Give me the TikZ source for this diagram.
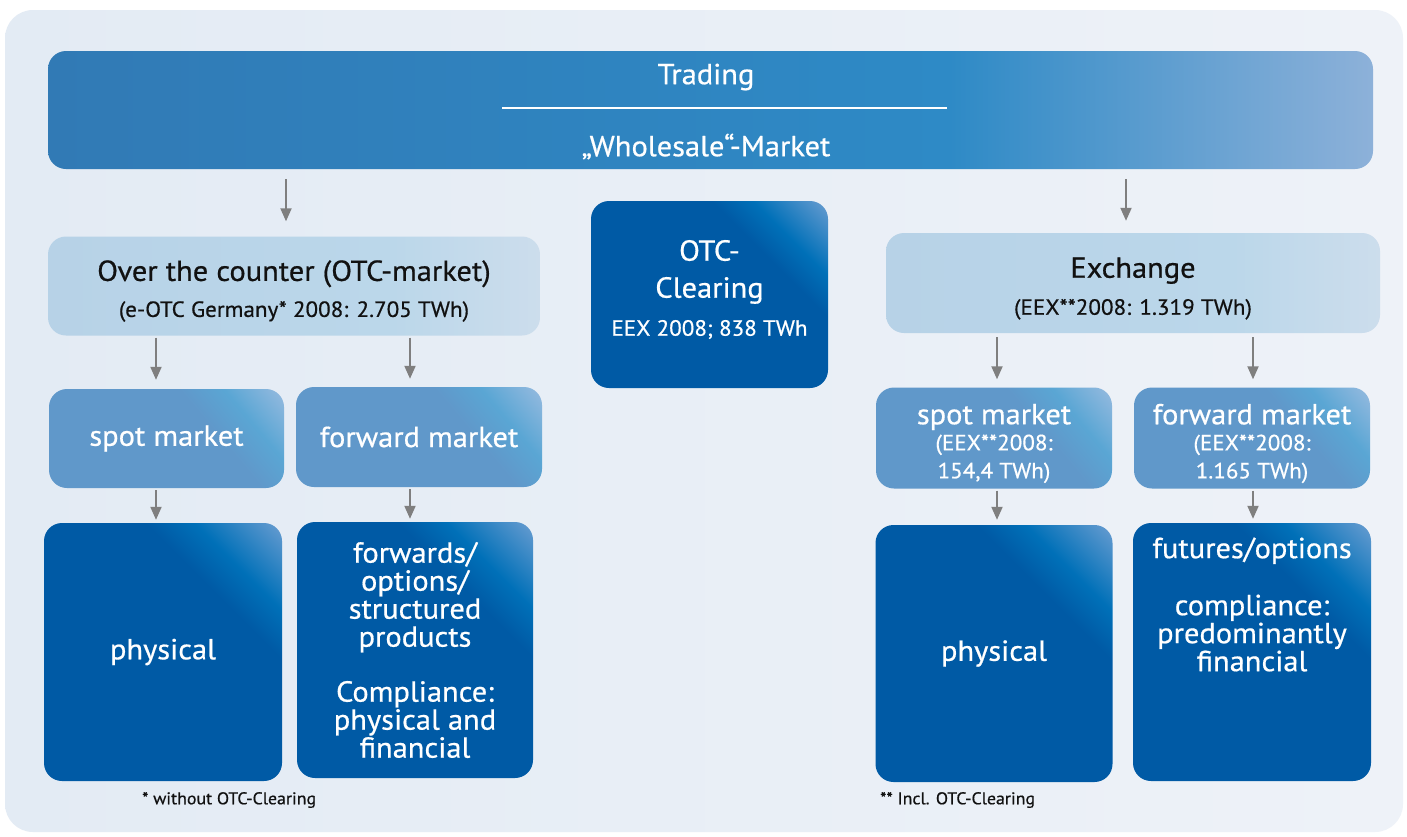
\documentclass[tikz,border=0pt]{standalone}
\usepackage{fontspec}
\setmainfont{PT Sans}[FakeBold=0.6, FakeStretch=1.05]
\usetikzlibrary{arrows.meta,calc}
\definecolor{bgL}{HTML}{E3EBF4}
\definecolor{bgR}{HTML}{EEF2F8}
\definecolor{barL}{HTML}{317AB5}
\definecolor{barM}{HTML}{2E8AC6}
\definecolor{barR}{HTML}{8DB1D9}
\definecolor{ltL}{HTML}{B7D2E7}
\definecolor{ltM}{HTML}{BBD7EA}
\definecolor{ltR}{HTML}{CCDDEC}
\definecolor{mdA}{HTML}{6098CA}
\definecolor{mdB}{HTML}{5AA6D4}
\definecolor{mdC}{HTML}{9BBCE0}
\definecolor{dkA}{HTML}{005AA5}
\definecolor{dkB}{HTML}{0070B8}
\definecolor{dkC}{HTML}{6E9FD2}
\definecolor{arrgray}{HTML}{7F7F7F}
\definecolor{txt}{HTML}{111111}
\pgfdeclarehorizontalshading{barsh}{100bp}{color(0bp)=(barL); color(25bp)=(barL); color(59bp)=(barM); color(75bp)=(barR); color(100bp)=(barR)}
\pgfdeclarehorizontalshading{ltsh}{100bp}{color(0bp)=(ltL); color(25bp)=(ltL); color(60bp)=(ltM); color(75bp)=(ltR); color(100bp)=(ltR)}
\pgfdeclarehorizontalshading{mdsh}{100bp}{color(0bp)=(mdA); color(62bp)=(mdA); color(72bp)=(mdB); color(86bp)=(mdC); color(100bp)=(mdC)}
\pgfdeclarehorizontalshading{dksh}{100bp}{color(0bp)=(dkA); color(66bp)=(dkA); color(73bp)=(dkB); color(86bp)=(dkC); color(100bp)=(dkC)}
\pgfdeclarehorizontalshading{bgsh}{100bp}{color(0bp)=(bgL); color(25bp)=(bgL); color(75bp)=(bgR); color(100bp)=(bgR)}
\newcommand\bigf{\fontsize{29pt}{28pt}\selectfont}
\newcommand\subf{\fontsize{22pt}{27pt}\selectfont}
\tikzset{
  box/.style={rounded corners=18pt, inner sep=0pt, align=center},
  barbox/.style={box, shading=barsh, text=white},
  ltbox/.style={box, shading=ltsh, text=txt},
  mdbox/.style={box, shading=mdsh, shading angle=40, text=white},
  dkbox/.style={box, shading=dksh, shading angle=45, text=white},
  big/.style={font=\bigf},
  wtxt/.style={big, text=white, align=center, inner sep=0pt},
  btxt/.style={big, text=txt, align=center, inner sep=0pt},
  foot/.style={font=\fontsize{17pt}{20pt}\selectfont, text=txt, inner sep=0pt},
  arr/.style={draw=arrgray, line width=2pt, -{Triangle[length=13pt,width=11pt]}}
}
\begin{document}
\begin{tikzpicture}[x=1pt,y=-1pt]
\useasboundingbox (0,0) rectangle (1407,836);
\fill[white] (0,0) rectangle (1407,836);
\node[box, rounded corners=28pt, shading=bgsh, minimum width=1398pt, minimum height=822pt] (bg) at (704,421) {};
% top bar
\node[barbox, minimum width=1325pt, minimum height=118pt] (bar) at (710.5,110) {};
\node[wtxt] (trd) at (706,77) {Trading};
\node[wtxt] (whs) at (706,146.5) {„Wholesale“-Market};
\coordinate (la) at (502,108);
\coordinate (lb) at (947,108);
\draw[white, line width=2pt] (la) -- (lb);
% second level
\node[ltbox, minimum width=492pt, minimum height=99pt] (otc) at (294,286) {};
\node[btxt] (otct) at (294,291)
  {Over the counter (OTC-market)\\[8pt]\subf (e-OTC Germany* 2008: 2.705 TWh)};
\node[dkbox, minimum width=237pt, minimum height=187pt] (clr) at (709.5,294.5) {};
\node[wtxt] (clrt) at (709.5,289.5)
  {OTC-\\[9pt]Clearing\\[10pt]\subf EEX 2008; 838 TWh};
\node[ltbox, minimum width=494pt, minimum height=100pt] (exc) at (1133,283) {};
\node[btxt] (exct) at (1133,288.5)
  {Exchange\\[9pt]\subf (EEX**2008: 1.319 TWh)};
% third level
\node[mdbox, big, minimum width=235pt, minimum height=99pt] (lsp) at (166.5,438.5) {spot market};
\node[mdbox, big, minimum width=246pt, minimum height=100pt] (lfw) at (419,437) {forward market};
\node[mdbox, minimum width=236pt, minimum height=101pt] (rsp) at (994,438) {};
\node[wtxt] (rspt) at (994,443.5)
  {spot market\\[-2pt]\subf (EEX**2008:\\\subf 154,4 TWh)};
\node[mdbox, minimum width=236pt, minimum height=101pt] (rfw) at (1252,438) {};
\node[wtxt] (rfwt) at (1252,443.5)
  {forward market\\[-2pt]\subf (EEX**2008:\\\subf 1.165 TWh)};
% fourth level
\node[dkbox, big, minimum width=238pt, minimum height=258pt] (lph) at (163,652) {physical};
\node[dkbox, big, minimum width=236pt, minimum height=256pt] (lfo) at (415,650)
  {forwards/\\options/\\structured\\products\\[27pt]Compliance:\\physical and\\financial};
\node[dkbox, big, minimum width=237pt, minimum height=257pt] (rph) at (994,653.5) {physical};
\node[dkbox, minimum width=238pt, minimum height=258pt] (rfu) at (1252,652) {};
\node[wtxt] (rfut) at (1252,604.5)
  {futures/options\\[29pt]compliance:\\predominantly\\financial};
% footnotes
\node[foot, anchor=west] (fn1) at (142,800) {* without OTC-Clearing};
\node[foot, anchor=west] (fn2) at (880,800) {** Incl. OTC-Clearing};
% arrows
\coordinate (a1) at (286,0);
\coordinate (a2) at (1126,0);
\coordinate (a3) at (156,0);
\coordinate (a4) at (410,0);
\coordinate (a5) at (997,0);
\coordinate (a6) at (1253,0);
\draw[arr, shorten <=10pt, shorten >=15pt] (bar.south -| a1) -- (otc.north -| a1);
\draw[arr, shorten <=10pt, shorten >=12pt] (bar.south -| a2) -- (exc.north -| a2);
\draw[arr, shorten <=2pt, shorten >=9pt] (otc.south -| a3) -- (lsp.north -| a3);
\draw[arr, shorten <=2pt, shorten >=8pt] (otc.south -| a4) -- (lfw.north -| a4);
\draw[arr, shorten <=4pt, shorten >=8pt] (exc.south -| a5) -- (rsp.north -| a5);
\draw[arr, shorten <=4pt, shorten >=8pt] (exc.south -| a6) -- (rfw.north -| a6);
\draw[arr, shorten <=2pt, shorten >=3pt] (lsp.south -| a3) -- (lph.north -| a3);
\draw[arr, shorten <=2pt, shorten >=3pt] (lfw.south -| a4) -- (lfo.north -| a4);
\draw[arr, shorten <=2pt, shorten >=5pt] (rsp.south -| a5) -- (rph.north -| a5);
\draw[arr, shorten <=2pt, shorten >=4pt] (rfw.south -| a6) -- (rfu.north -| a6);
\end{tikzpicture}
\end{document}
